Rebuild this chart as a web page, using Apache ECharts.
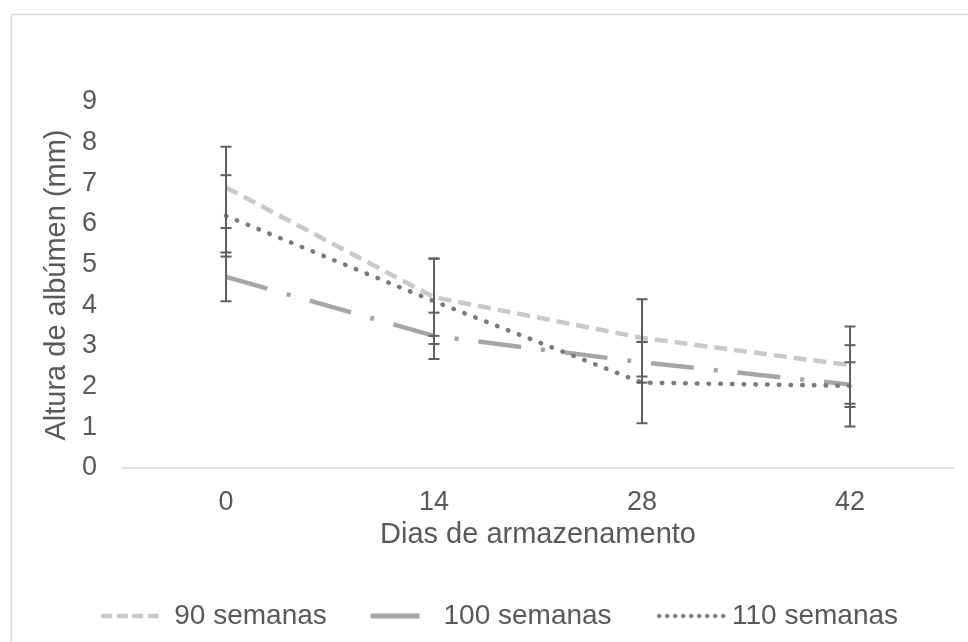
<!DOCTYPE html>
<html>
<head>
<meta charset="utf-8">
<script src="https://cdn.jsdelivr.net/npm/echarts@6/dist/echarts.min.js"></script>
<style>
html,body{margin:0;padding:0;background:#fff;}
#chart{width:968px;height:642px;}
</style>
</head>
<body>
<div id="chart"></div>
<script>
// ---- Data ----
const categories = ['0', '14', '28', '42'];
const yTicks = [0, 1, 2, 3, 4, 5, 6, 7, 8, 9];
const seriesNames = ['90 semanas', '100 semanas', '110 semanas'];
const s90 = [6.9, 4.2, 3.2, 2.53];
const s100 = [4.7, 3.25, 2.6, 2.05];
const s110 = [6.2, 4.1, 2.1, 2.02];
const err90 = [1.0, 0.95, 0.95, 0.95];
const err100 = [0.6, 0.57, 0.5, 0.55];
const err110 = [1.0, 1.05, 1.0, 1.0];

const FONT = "'Liberation Sans', Arial, sans-serif";
const TXT = '#595959';

function errData(vals, errs) {
  return vals.map((v, i) => [i, +(v - errs[i]).toFixed(3), +(v + errs[i]).toFixed(3)]);
}
function renderErr(params, api) {
  const lo = api.coord([api.value(0), api.value(1)]);
  const hi = api.coord([api.value(0), api.value(2)]);
  const hw = 5.5;
  const st = { stroke: '#5f5f5f', lineWidth: 2 };
  return {
    type: 'group',
    children: [
      { type: 'line', shape: { x1: lo[0], y1: lo[1], x2: hi[0], y2: hi[1] }, style: st },
      { type: 'line', shape: { x1: lo[0] - hw, y1: lo[1], x2: lo[0] + hw, y2: lo[1] }, style: st },
      { type: 'line', shape: { x1: hi[0] - hw, y1: hi[1], x2: hi[0] + hw, y2: hi[1] }, style: st }
    ]
  };
}

const lineStyles = [
  { color: '#c9c9c9', width: 4.5, type: [13, 7] },
  { color: '#a6a6a6', width: 4.5, type: [43, 20, 4, 20] },
  { color: '#7a7a7a', width: 4.5, type: [0.5, 11.2], cap: 'round' }
];
const seriesData = [s90, s100, s110];
const errArrays = [err90, err100, err110];

const series = [];
seriesNames.forEach((name, k) => {
  series.push({
    name: name,
    type: 'line',
    data: seriesData[k],
    symbol: 'none',
    z: 2,
    lineStyle: lineStyles[k],
    itemStyle: { color: lineStyles[k].color },
    emphasis: { disabled: true }
  });
});
seriesNames.forEach((name, k) => {
  series.push({
    name: name + ' erro',
    type: 'custom',
    z: 3,
    renderItem: renderErr,
    encode: { x: 0, y: [1, 2] },
    data: errData(seriesData[k], errArrays[k])
  });
});

const legendLines = [
  { color: '#c9c9c9', width: 4.5, type: [11, 4.5] },
  { color: '#a6a6a6', width: 5, type: 'solid' },
  { color: '#7a7a7a', width: 4, type: [0.5, 7.5], cap: 'round' }
];

function legendFor(k, left, iw, pad) {
  return {
    data: [seriesNames[k]],
    left: left,
    top: 597,
    itemWidth: iw,
    itemHeight: 14,
    selectedMode: false,
    itemStyle: { opacity: 0, borderWidth: 0 },
    lineStyle: legendLines[k],
    textStyle: { color: TXT, fontSize: 28, fontFamily: FONT, padding: [0, 0, 0, pad] }
  };
}

const option = {
  backgroundColor: '#ffffff',
  animation: false,
  grid: { left: 122, right: 14, top: 102, bottom: 174 },
  graphic: [
    { type: 'rect', left: 9, top: 12, shape: { width: 1000, height: 700 },
      style: { fill: 'none', stroke: '#d9d9d9', lineWidth: 1.5 }, silent: true, z: -10 }
  ],
  legend: [
    legendFor(0, 94, 62, 6),
    legendFor(1, 363, 49, 19),
    legendFor(2, 652, 67, 1)
  ],
  xAxis: {
    type: 'category',
    data: categories,
    boundaryGap: true,
    name: 'Dias de armazenamento',
    nameLocation: 'middle',
    nameGap: 52,
    nameTextStyle: { color: TXT, fontSize: 29, fontFamily: FONT },
    axisLine: { lineStyle: { color: '#d9d9d9', width: 1.5 } },
    axisTick: { show: false },
    axisLabel: { color: TXT, fontSize: 27, fontFamily: FONT, margin: 21 },
    splitLine: { show: false }
  },
  yAxis: {
    type: 'value',
    min: yTicks[0],
    max: yTicks[yTicks.length - 1],
    interval: 1,
    name: 'Altura de albúmen (mm)',
    nameLocation: 'middle',
    nameGap: 50,
    nameTextStyle: { color: TXT, fontSize: 29, fontFamily: FONT },
    axisLine: { show: false },
    axisTick: { show: false },
    axisLabel: { color: TXT, fontSize: 27, fontFamily: FONT, margin: 25 },
    splitLine: { show: false }
  },
  series: series
};

const chart = echarts.init(document.getElementById('chart'), null, { renderer: 'canvas' });
chart.setOption(option);
</script>
</body>
</html>
